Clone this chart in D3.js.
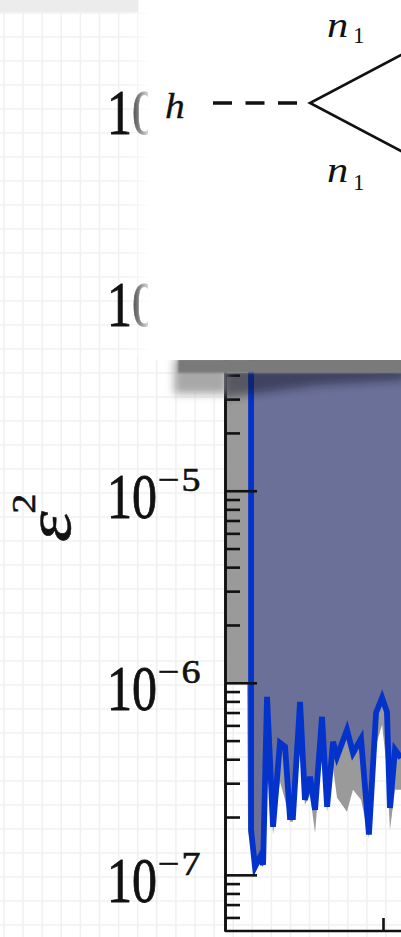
<!DOCTYPE html>
<html>
<head>
<meta charset="utf-8">
<script src="https://cdn.jsdelivr.net/npm/d3@7"></script>
<style>
  html, body { margin: 0; padding: 0; background: #ffffff; overflow: hidden; }
  svg { display: block; }
</style>
</head>
<body>
<svg id="chart" width="401" height="937"></svg>
<script>
// Limits on the mixing ε² as a function of the n₁ mass (GeV)

// Blue limit: vertical edge at the kinematic threshold, then the noisy lower edge
const massGeV = [16.5, 16.5, 19.0, 22.2, 24.1, 26.6, 30.4, 34.8, 38.0, 41.1, 43.0, 47.5,
  50.6, 53.8, 57.0, 61.4, 64.6, 68.4, 70.9, 77.2, 81.0, 86.1, 91.1, 95.6, 99.4,
  102.5, 104.4, 107.6, 111.4];
const blueLimit = [3e-3, 1.71e-7, 1.10e-7, 1.24e-7, 1.13e-7, 8.45e-7, 1.78e-7, 4.87e-7,
  4.64e-7, 2.0e-7, 2.0e-7, 7.96e-7, 2.46e-7, 3.24e-7, 2.18e-7, 6.65e-7, 2.26e-7,
  4.93e-7, 4.12e-7, 5.69e-7, 4.31e-7, 5.11e-7, 1.62e-7, 6.98e-7, 8.35e-7, 7.06e-7,
  2.23e-7, 4.48e-7, 4.06e-7];

// Gray limit: flat at 1e-6 below threshold, then a noisy edge under the blue one
const grayMass = [0, 13.9, 14.6, 19.0, 22.2, 24.1, 26.6, 30.4, 34.8, 38.0, 41.1, 43.0,
  47.5, 50.6, 53.8, 57.0, 61.4, 64.6, 68.4, 70.9, 77.2, 81.0, 86.1, 91.1, 95.6, 99.4,
  102.5, 104.4, 107.6, 111.4];
const grayLimit = [1e-6, 1e-6, 1.71e-7, 1.04e-7, 1.17e-7, 1.09e-7, 6.04e-7, 1.62e-7,
  3.05e-7, 2.46e-7, 1.89e-7, 1.89e-7, 5.05e-7, 2.32e-7, 2.61e-7, 1.65e-7, 4.58e-7,
  2.13e-7, 3.61e-7, 2.52e-7, 2.13e-7, 2.77e-7, 2.46e-7, 1.56e-7, 4.75e-7, 6.04e-7,
  3.52e-7, 1.71e-7, 2.77e-7, 2.77e-7];

const yMajorTicks = [1e-7, 1e-6, 1e-5, 1e-4, 1e-3];
const yTickExponents = ["−7", "−6", "−5", "−4", "−3"];
const xMajorTicks = [100];

const W = 401, H = 937;
const INSET_LEFT = 148, INSET_BOTTOM = 360;
const svg = d3.select("#chart");
const defs = svg.append("defs");

const x = d3.scaleLinear().domain([0, 100]).range([225, 383]);
const y = d3.scaleLog().domain([5.1e-8, 3e-3]).range([931, 15]);
const yTop = 3e-3;

// ---------- graph-paper background ----------
svg.append("rect").attr("width", W).attr("height", H).attr("fill", "#ffffff");
const grid = svg.append("g").attr("stroke", "#f0f0f0").attr("stroke-width", 1.5);
d3.range(4, W, 19.1).forEach(gx => {
  grid.append("line").attr("x1", gx).attr("x2", gx).attr("y1", 0).attr("y2", H);
});
d3.range(13, H, 24).forEach(gy => {
  grid.append("line").attr("x1", 0).attr("x2", W).attr("y1", gy).attr("y2", gy);
});
svg.append("rect").attr("x", 0).attr("y", 0).attr("width", 138).attr("height", 12)
  .attr("fill", "#ececec");

// ---------- excluded regions ----------
const grayPts = grayMass.map((m, i) => [m, grayLimit[i]]);
const bluePts = massGeV.map((m, i) => [m, blueLimit[i]]);

svg.append("path")
  .datum(grayPts)
  .attr("fill", "#9a9a9a")
  .attr("d", d3.area().x(d => x(d[0])).y0(y(yTop)).y1(d => y(d[1])));

svg.append("path")
  .datum(bluePts)
  .attr("fill", "#6a7098")
  .attr("d", d3.area().x(d => x(d[0])).y0(y(yTop)).y1(d => y(d[1])));

svg.append("path")
  .datum(bluePts)
  .attr("fill", "none")
  .attr("stroke", "#0433cc")
  .attr("stroke-width", 5.8)
  .attr("stroke-linejoin", "miter")
  .attr("d", d3.line().x(d => x(d[0])).y(d => y(d[1])));

// ---------- axes ----------
const minorTicks = [];
for (let e = -8; e <= -3; e++) {
  for (let k = 2; k <= 9; k++) {
    const v = k * Math.pow(10, e);
    if (v > 5.1e-8 && v < 3e-3) minorTicks.push(v);
  }
}
const yMinorAxis = d3.axisLeft(y).tickValues(minorTicks).tickFormat("")
  .tickSizeInner(-15).tickSizeOuter(0);
const yMajorAxis = d3.axisLeft(y).tickValues(yMajorTicks).tickFormat("")
  .tickSizeInner(-32).tickSizeOuter(0);
const xAxis = d3.axisBottom(x).tickValues(xMajorTicks).tickFormat("")
  .tickSizeInner(-13).tickSizeOuter(0);

function styleAxis(g) {
  g.select(".domain").attr("stroke", "#111").attr("stroke-width", 2.6);
  g.selectAll(".tick line").attr("stroke", "#111").attr("stroke-width", 2.6);
}
svg.append("g").attr("transform", "translate(225,0)").call(yMinorAxis).call(styleAxis);
svg.append("g").attr("transform", "translate(225,0)").call(yMajorAxis).call(styleAxis);
svg.append("g").attr("transform", "translate(0,931)").call(xAxis).call(styleAxis)
  .select(".domain").attr("d", "M225,0H420");

// y tick labels 10^n; near the top the inset card covers them from x = INSET_LEFT on
defs.append("clipPath").attr("id", "labelClip")
  .attr("clipPathUnits", "userSpaceOnUse")
  .append("rect").attr("x", 0).attr("y", 0).attr("width", INSET_LEFT).attr("height", INSET_BOTTOM);
const labels = svg.append("g").attr("font-family", "'Liberation Serif', 'Times New Roman', serif")
  .attr("fill", "#111").attr("stroke", "#111").attr("stroke-width", 0.7);
const hiddenLabels = labels.append("g").attr("clip-path", "url(#labelClip)");
yMajorTicks.forEach((t, i) => {
  const ty = y(t);
  const hidden = ty < INSET_BOTTOM;
  (hidden ? hiddenLabels : labels).append("text")
    .attr("transform", `translate(157,${ty + 27}) scale(1,1.27)`)
    .attr("text-anchor", "end")
    .attr("font-size", 50)
    .text("10");
  if (!hidden) {
    labels.append("text")
      .attr("transform", `translate(158,${ty}) scale(1,0.88)`)
      .attr("font-size", 38)
      .attr("letter-spacing", 2)
      .text(yTickExponents[i]);
  }
});

// y axis title ε²
const yTitle = svg.append("text")
  .attr("transform", "translate(70,542) rotate(-90) scale(1.22,1)")
  .attr("font-family", "'Liberation Serif', 'Times New Roman', serif")
  .attr("fill", "#111").attr("stroke", "#111").attr("stroke-width", 0.5);
yTitle.append("tspan").attr("font-style", "italic").attr("font-size", 64).text("ε");
yTitle.append("tspan").attr("font-size", 33).attr("dy", -35).attr("dx", -2).text("2");

// ---------- inset shadow ----------
const blurSoft = defs.append("filter").attr("id", "blurSoft")
  .attr("x", "-30%").attr("y", "-60%").attr("width", "160%").attr("height", "220%");
blurSoft.append("feGaussianBlur").attr("stdDeviation", 4);
const blurHard = defs.append("filter").attr("id", "blurHard")
  .attr("x", "-10%").attr("y", "-60%").attr("width", "120%").attr("height", "220%");
blurHard.append("feGaussianBlur").attr("stdDeviation", 1.2);
const blurMid = defs.append("filter").attr("id", "blurMid")
  .attr("x", "-10%").attr("y", "-80%").attr("width", "120%").attr("height", "260%");
blurMid.append("feGaussianBlur").attr("stdDeviation", 4);
defs.append("clipPath").attr("id", "plotClip")
  .append("rect").attr("x", 224).attr("y", 373).attr("width", 200).attr("height", 560);

svg.append("rect").attr("x", 174).attr("y", 358).attr("width", 54).attr("height", 36)
  .attr("fill", "#a8a8a8").attr("filter", "url(#blurSoft)");
svg.append("g").attr("clip-path", "url(#plotClip)")
  .append("path")
  .attr("d", "M222,366L405,366L405,380L320,385L222,398Z")
  .attr("fill", "#15172a").attr("opacity", 0.5).attr("filter", "url(#blurMid)");
svg.append("rect").attr("x", 178).attr("y", 359).attr("width", 230).attr("height", 14)
  .attr("fill", "#7a7a7a").attr("filter", "url(#blurHard)");

// ---------- inset: h → n₁ n₁ ----------
const haze = defs.append("linearGradient").attr("id", "haze");
haze.append("stop").attr("offset", "0").attr("stop-color", "#fff").attr("stop-opacity", 0);
haze.append("stop").attr("offset", "1").attr("stop-color", "#fff").attr("stop-opacity", 0.9);
svg.append("rect").attr("x", 126).attr("y", 12).attr("width", 24).attr("height", 345)
  .attr("fill", "url(#haze)");
svg.append("rect").attr("x", INSET_LEFT).attr("y", -30).attr("width", 300)
  .attr("height", INSET_BOTTOM + 30).attr("rx", 12).attr("fill", "#ffffff");

const inset = svg.append("g").attr("font-family", "'Liberation Serif', 'Times New Roman', serif")
  .attr("fill", "#111");
inset.append("line").attr("x1", 213).attr("x2", 297).attr("y1", 103).attr("y2", 103)
  .attr("stroke", "#111").attr("stroke-width", 3.6).attr("stroke-dasharray", "19 13.5");
inset.append("path").attr("d", "M420,45L310,103L420,161")
  .attr("fill", "none").attr("stroke", "#111").attr("stroke-width", 2.6);
inset.append("text").attr("transform", "translate(165,118) scale(1.1,1)")
  .attr("font-style", "italic").attr("font-size", 36)
  .attr("stroke", "#111").attr("stroke-width", 0.3).text("h");
[[37, 43], [182, 190]].forEach(([nb, sb]) => {
  inset.append("text").attr("transform", `translate(327,${nb}) scale(1.18,1)`)
    .attr("font-style", "italic").attr("font-size", 36).text("n");
  inset.append("text").attr("x", 353).attr("y", sb)
    .attr("font-size", 23).text("1");
});
</script>
</body>
</html>
